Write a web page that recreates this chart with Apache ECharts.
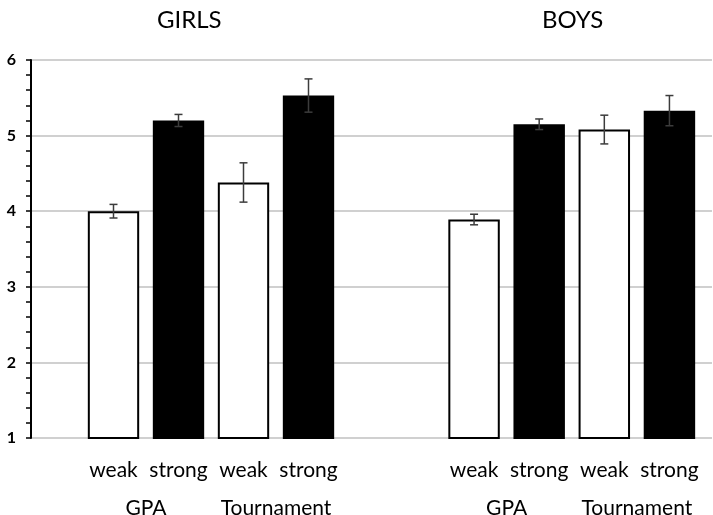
<!DOCTYPE html>
<html>
<head>
<meta charset="utf-8">
<script src="https://cdn.jsdelivr.net/npm/echarts@6/dist/echarts.min.js"></script>
<style>
html,body{margin:0;padding:0;background:#fff;}
#chart{width:713px;height:515px;}
</style>
</head>
<body>
<div id="chart"></div>
<script>
// ---- data ----
const groupTitles = ['GIRLS', 'BOYS'];
const barLabels = ['weak', 'strong', 'weak', 'strong'];
const measureLabels = ['GPA', 'Tournament'];
const girlsMeans = [4.00, 5.20, 4.38, 5.53];
const girlsErrors = [0.09, 0.08, 0.26, 0.22];
const boysMeans = [3.89, 5.15, 5.08, 5.33];
const boysErrors = [0.07, 0.07, 0.19, 0.20];
const yTicks = [1, 2, 3, 4, 5, 6];

const FONT = 'Lato, "Open Sans", sans-serif';
const chart = echarts.init(document.getElementById('chart'), null, {renderer: 'canvas'});

const plotTop = 60, plotBottom = 77;
const yMin = yTicks[0], yMax = yTicks[yTicks.length - 1];

function hiddenY(gridIndex) {
  return {gridIndex, type: 'value', min: yMin, max: yMax, interval: 1, show: false, splitLine: {show: false}};
}
function labelAxis(gridIndex) {
  return {
    gridIndex, type: 'category', data: barLabels, position: 'bottom',
    axisLine: {show: false}, axisTick: {show: false}, splitLine: {show: false},
    axisLabel: {color: '#000', fontSize: 21, fontFamily: FONT, margin: 22, interval: 0}
  };
}
function measureAxis(gridIndex) {
  return {
    gridIndex, type: 'category', data: measureLabels, position: 'bottom', offset: 38,
    axisLine: {show: false}, axisTick: {show: false}, splitLine: {show: false},
    axisLabel: {color: '#000', fontSize: 21, fontFamily: FONT, margin: 22, interval: 0}
  };
}
function barSeries(axisIdx, means) {
  return {
    type: 'bar', xAxisIndex: axisIdx, yAxisIndex: axisIdx, barWidth: '79%',
    data: means,
    itemStyle: {
      color: p => barLabels[p.dataIndex] === 'strong' ? '#000' : '#fff',
      borderColor: '#000', borderWidth: 2
    },
    silent: true, animation: false
  };
}
function errorSeries(axisIdx, means, errs) {
  return {
    type: 'custom', xAxisIndex: axisIdx, yAxisIndex: axisIdx,
    data: means.map((m, i) => [i, m, errs[i]]),
    encode: {x: 0, y: 1},
    z: 5, silent: true, animation: false,
    renderItem(params, api) {
      const i = api.value(0), v = api.value(1), e = api.value(2);
      const hi = api.coord([i, v + e]);
      const lo = api.coord([i, v - e]);
      const hw = 4;
      const st = {stroke: '#3c3c3c', lineWidth: 1.5};
      return {type: 'group', children: [
        {type: 'line', shape: {x1: hi[0], y1: hi[1], x2: lo[0], y2: lo[1]}, style: st},
        {type: 'line', shape: {x1: hi[0] - hw, y1: hi[1], x2: hi[0] + hw, y2: hi[1]}, style: st},
        {type: 'line', shape: {x1: lo[0] - hw, y1: lo[1], x2: lo[0] + hw, y2: lo[1]}, style: st}
      ]};
    }
  };
}

const gridBase = {top: plotTop, bottom: plotBottom, containLabel: false, outerBoundsMode: 'none'};
const option = {
  backgroundColor: '#fff',
  animation: false,
  grid: [
    Object.assign({left: 31, right: 1}, gridBase),
    Object.assign({left: 81, width: 260}, gridBase),
    Object.assign({left: 441.5, width: 260.5}, gridBase)
  ],
  xAxis: [
    {gridIndex: 0, type: 'category', data: [''], show: false},
    labelAxis(1),
    labelAxis(2),
    measureAxis(1),
    measureAxis(2)
  ],
  yAxis: [
    {
      gridIndex: 0, type: 'value', min: yMin, max: yMax, interval: 1,
      axisLine: {show: true, lineStyle: {color: '#000', width: 2}},
      axisTick: {show: true, length: 5, lineStyle: {color: '#000', width: 1.5}},
      minorTick: {show: true, splitNumber: 5, length: 5, lineStyle: {color: '#000', width: 1.5}},
      splitLine: {show: true, lineStyle: {color: '#d0d0d0', width: 2}},
      axisLabel: {color: '#000', fontSize: 16, fontWeight: 'bold', fontFamily: FONT, margin: 15,
        formatter: v => yTicks.includes(v) ? String(v) : ''}
    },
    hiddenY(1),
    hiddenY(2)
  ],
  graphic: [
    {type: 'text', left: 157, top: 8, style: {text: groupTitles[0], font: '24px ' + FONT, fill: '#000'}},
    {type: 'text', left: 542, top: 8, style: {text: groupTitles[1], font: '24px ' + FONT, fill: '#000'}}
  ],
  series: [
    barSeries(1, girlsMeans),
    barSeries(2, boysMeans),
    errorSeries(1, girlsMeans, girlsErrors),
    errorSeries(2, boysMeans, boysErrors)
  ]
};
chart.setOption(option);
</script>
</body>
</html>
